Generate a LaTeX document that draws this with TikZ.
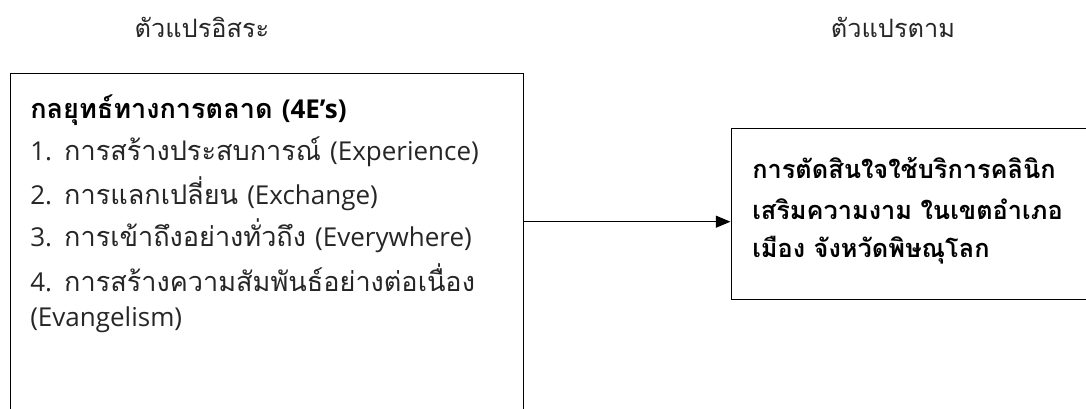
\documentclass[tikz,border=0pt]{standalone}
\usepackage{fontspec}
\setmainfont[Script=Thai]{Loma}
\newfontfamily\lat{Open Sans}
\usetikzlibrary{arrows.meta}
\begin{document}
\begin{tikzpicture}[x=0.75pt,y=-0.75pt,
  box/.style={draw,line width=1pt,anchor=north west,inner sep=0pt},
  txt/.style={anchor=west,inner sep=0pt,font=\fontsize{20.3}{24}\selectfont,text=black!85},
  btxt/.style={txt,font=\fontsize{20.3}{24}\selectfont\bfseries,text=black},
  rtxt/.style={txt,font=\fontsize{19}{24}\selectfont\bfseries,text=black},
  head/.style={inner sep=0pt,font=\fontsize{19}{22}\selectfont,text=black!85},
  conn/.style={line width=0.9pt,-{Triangle[length=11pt,width=9pt]}}]
\newcommand\lt[1]{{\lat\fontsize{19.5}{24}\selectfont #1}}
\useasboundingbox (0,0) rectangle (1086,408);
\clip (0,0) rectangle (1086,408);
\node[head] (h1) at (202,27) {ตัวแปรอิสระ};
\node[head] (h2) at (893,27) {ตัวแปรตาม};
\node[box,minimum width=512.5*0.75pt,minimum height=360*0.75pt] (L) at (10,72.5) {};
\node[box,minimum width=380*0.75pt,minimum height=171*0.75pt] (R) at (730.5,128) {};
\node[btxt] (t0) at (30,110) {กลยุทธ์ทางการตลาด \lt{(4E’s)}};
\node[txt] (t1) at (30,152) {\lt{1.} การสร้างประสบการณ์ \lt{(Experience)}};
\node[txt] (t2) at (30,194) {\lt{2.} การแลกเปลี่ยน \lt{(Exchange)}};
\node[txt] (t3) at (30,236) {\lt{3.} การเข้าถึงอย่างทั่วถึง \lt{(Everywhere)}};
\node[txt] (t4) at (30,278) {\lt{4.} การสร้างความสัมพันธ์อย่างต่อเนื่อง};
\node[txt] (t5) at (30,320) {\lt{(Evangelism)}};
\node[rtxt] (r1) at (752,168) {การตัดสินใจใช้บริการคลินิก};
\node[rtxt] (r2) at (752,209) {เสริมความงาม ในเขตอำเภอ};
\node[rtxt] (r3) at (752,250) {เมือง จังหวัดพิษณุโลก};
\coordinate (A) at (0,221.7);
\draw[conn] (L.east |- A) -- (R.west |- A);
\end{tikzpicture}
\end{document}
